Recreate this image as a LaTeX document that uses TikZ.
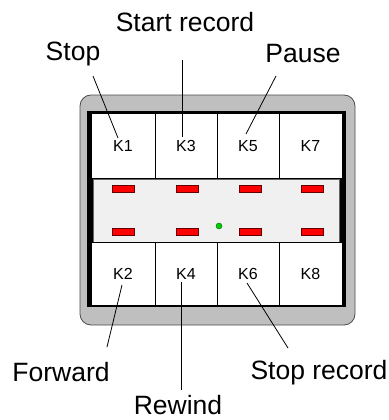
\documentclass[tikz,border=0pt]{standalone}
\usepackage{fontspec}
\setmainfont{Liberation Sans}
\begin{document}
\begin{tikzpicture}[x=1pt,y=-1pt,
  lbl/.style={font=\fontsize{26.5}{30}\selectfont, inner sep=0pt},
  keycell/.style={draw=black, line width=0.8pt, fill=white, minimum width=#1, minimum height=65pt, inner sep=0pt, font=\fontsize{16}{19}\selectfont},
  keycellb/.style={draw=black, line width=0.8pt, fill=white, minimum width=#1, minimum height=63pt, inner sep=0pt, font=\fontsize{16}{19}\selectfont},
  led/.style={draw=red!40!black, line width=0.6pt, fill=red, minimum width=22pt, minimum height=7pt, inner sep=0pt},
  leader/.style={draw=black, line width=0.8pt}]
\useasboundingbox (0,0) rectangle (388,420);
% housing
\draw[fill=black!25, draw=black!70, line width=0.8pt, rounded corners=11pt] (80,95) rectangle (355,325);
\node[draw=black, line width=3pt, fill=black, minimum width=256pt, minimum height=193pt, inner sep=0pt] (frame) at (216.5,209) {};
% panel
\node[draw=black!60, line width=0.6pt, fill=black!6, minimum width=246pt, minimum height=63pt, inner sep=0pt] (panel) at (216,210.5) {};
% top keys
\node[keycell=64pt] (k1) at (123,146) {K1};
\node[keycell=62pt] (k3) at (186,146) {K3};
\node[keycell=62pt] (k5) at (248,146) {K5};
\node[keycell=63pt] (k7) at (310.5,146) {K7};
% bottom keys
\node[keycellb=64pt] (k2) at (123,273.5) {K2};
\node[keycellb=62pt] (k4) at (186,273.5) {K4};
\node[keycellb=62pt] (k6) at (248,273.5) {K6};
\node[keycellb=63pt] (k8) at (310.5,273.5) {K8};
% LEDs
\node[led] (l1) at (123,189) {};
\node[led] (l3) at (187,189) {};
\node[led] (l5) at (250,189) {};
\node[led] (l7) at (312,189) {};
\node[led] (l2) at (123,232) {};
\node[led] (l4) at (187,232) {};
\node[led] (l6) at (250,232) {};
\node[led] (l8) at (312,232) {};
\node[circle, fill=green!80!black, draw=green!40!black, line width=0.4pt, minimum size=6pt, inner sep=0pt] (dot) at (219,226) {};
% labels
\node[lbl] (stop) at (73,54) {Stop};
\node[lbl] (start) at (185,22) {Start record};
\node[lbl] (pause) at (303,54) {Pause};
\node[lbl] (fwd) at (61,372) {Forward};
\node[lbl] (rew) at (178,405) {Rewind};
\node[lbl] (stoprec) at (319,373) {Stop record};
% leader ends
\coordinate (a1) at (93,76);   \coordinate (b1) at (118,138);
\coordinate (a3) at (182,60);  \coordinate (b3) at (182,137);
\coordinate (a5) at (276,76);  \coordinate (b5) at (246,134);
\coordinate (a2) at (107,347); \coordinate (b2) at (122,285);
\coordinate (a4) at (181,390); \coordinate (b4) at (181,282);
\coordinate (a6) at (288,348); \coordinate (b6) at (247,283);
\draw[leader] (a1) -- (b1);
\draw[leader] (a3) -- (b3);
\draw[leader] (a5) -- (b5);
\draw[leader] (a2) -- (b2);
\draw[leader] (a4) -- (b4);
\draw[leader] (a6) -- (b6);
\end{tikzpicture}
\end{document}
